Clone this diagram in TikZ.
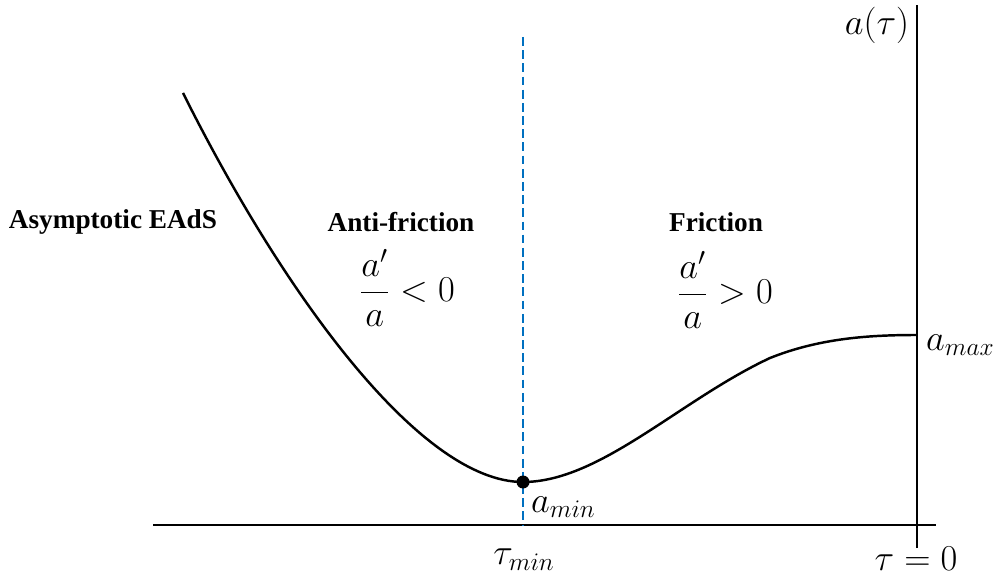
\documentclass[tikz,border=0pt]{standalone}
\usepackage{fontspec}
\setmainfont{Liberation Serif}
\usepackage{amsmath}
\definecolor{dashblue}{RGB}{0,112,192}
\tikzset{
  axisline/.style={line width=1.6pt},
  curveline/.style={line width=1.4pt},
  regionlabel/.style={font=\fontsize{15.5}{18}\selectfont\bfseries},
  mathlabel/.style={font=\fontsize{21}{24}\selectfont, inner sep=1pt}
}
\begin{document}
\begin{tikzpicture}
    \useasboundingbox (0,0) rectangle (20,11.54);

    % 坐标轴
    \coordinate (hstart) at (3.06,1.04);
    \coordinate (hend) at (18.72,1.04);
    \coordinate (vtop) at (18.34,11.44);
    \coordinate (vbottom) at (18.34,0.58);
    \draw[axisline] (hstart) -- (hend);
    \draw[axisline] (vbottom) -- (vtop);

    % 分界线
    \coordinate (dtop) at (10.46,10.80);
    \coordinate (dbottom) at (10.46,1.04);
    \draw[dashblue, line width=1.2pt, dash pattern=on 5pt off 2.5pt] (dtop) -- (dbottom);

    % 曲线
    \coordinate (start) at (3.66,9.68);
    \coordinate (amin) at (10.46,1.90);
    \coordinate (bend) at (15.40,4.38);
    \coordinate (amax) at (18.34,4.84);
    \draw[curveline] (start) .. controls (5.66,5.68) and (8.40,1.90) .. (amin)
        .. controls (12.00,1.90) and (13.60,3.54) .. (bend)
        .. controls (16.40,4.78) and (17.40,4.84) .. (amax);
    \fill (amin) circle (0.13);

    % 区域标签
    \node[regionlabel] (eads) at (2.26,7.10) {Asymptotic EAdS};
    \node[regionlabel] (anti) at (8.02,7.10) {Anti-friction};
    \node[regionlabel] (fric) at (14.32,7.10) {Friction};
    \node[mathlabel] (neg) at (8.14,5.78) {$\dfrac{a'}{a}<0$};
    \node[mathlabel] (pos) at (14.50,5.74) {$\dfrac{a'}{a}>0$};

    % 轴标签
    \node[mathlabel, anchor=west] (lmax) at (18.48,4.64) {$a_{max}$};
    \node[mathlabel, anchor=west] (lmin) at (10.58,1.40) {$a_{min}$};
    \node[mathlabel] (taumin) at (10.48,0.35) {$\tau_{min}$};
    \node[mathlabel] (tauzero) at (18.32,0.36) {$\tau=0$};
    \node[mathlabel] (atau) at (17.54,11.04) {$a(\tau)$};
\end{tikzpicture}
\end{document}
